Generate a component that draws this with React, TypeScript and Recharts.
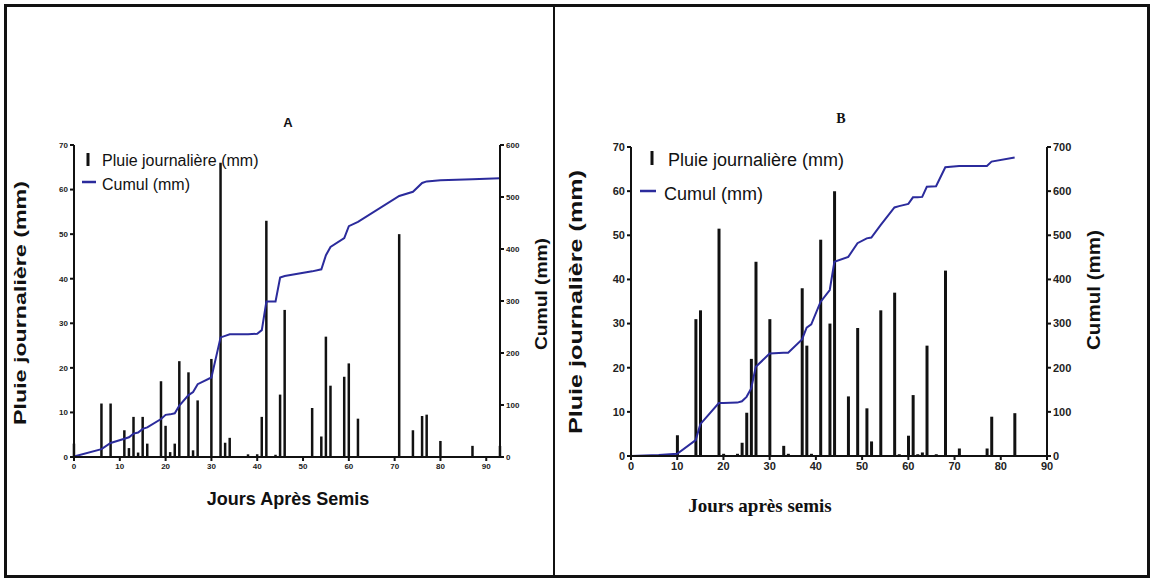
import React from 'react';
import { ComposedChart, Bar, Line, XAxis, YAxis } from 'recharts';

// ---------- Panel A data ----------
const daysA = [0, 6, 8, 11, 12, 13, 14, 15, 16, 19, 20, 21, 22, 23, 25, 26, 27, 30, 32, 33, 34, 38, 40, 41, 42, 44, 45, 46, 52, 54, 55, 56, 59, 60, 62, 71, 74, 76, 77, 80, 87, 93];
const rainA = [3, 12, 12, 6, 2, 9, 1, 9, 3, 17, 7, 1.1, 3, 21.5, 19, 1.5, 12.7, 22, 66, 3.2, 4.3, 0.6, 0.6, 9, 53, 0.5, 14, 33, 11, 4.6, 27, 16, 18, 21, 8.6, 50, 6, 9.2, 9.5, 3.6, 2.5, 2.5];
const cumulA = [1, 15, 27, 35, 38, 45, 47, 54, 57, 73, 81, 82, 84, 99, 119, 125, 140, 153, 230, 233, 236, 236, 237, 244, 299, 299, 345, 348, 357, 361, 388, 404, 421, 444, 452, 502, 510, 527, 530, 532, 534, 536];

// ---------- Panel B data ----------
const daysB = [0, 6, 10, 14, 15, 19, 20, 23, 24, 25, 26, 27, 30, 33, 34, 37, 38, 39, 41, 43, 44, 47, 49, 51, 52, 54, 57, 58, 60, 61, 62, 63, 64, 66, 68, 71, 77, 78, 83];
const rainB = [0, 0, 4.7, 31, 33, 51.5, 0.5, 0.5, 3, 9.8, 22, 44, 31, 2.3, 0.5, 38, 25, 0.5, 49, 30, 60, 13.5, 29, 10.8, 3.3, 33, 37, 0.4, 4.6, 13.8, 0.4, 0.8, 25, 0.4, 42, 1.7, 1.7, 8.9, 9.7];
const cumulB = [0, 2, 5, 36, 72, 120, 120, 121, 124, 134, 153, 202, 232, 234, 234, 264, 291, 298, 349, 376, 440, 451, 482, 493, 495, 523, 563, 566, 571, 586, 586, 587, 610, 611, 654, 657, 657, 667, 676];

// ---------- Tick labels ----------
const xTicks = [0, 10, 20, 30, 40, 50, 60, 70, 80, 90];
const leftTicks = [0, 10, 20, 30, 40, 50, 60, 70];
const rightTicksA = [0, 100, 200, 300, 400, 500, 600];
const rightTicksB = [0, 100, 200, 300, 400, 500, 600, 700];

const legendRain = 'Pluie journalière (mm)';
const legendCumul = 'Cumul (mm)';

const tableA = daysA.map((d, i) => ({ day: d, rain: rainA[i], cumul: cumulA[i] }));
const tableB = daysB.map((d, i) => ({ day: d, rain: rainB[i], cumul: cumulB[i] }));

const LINE_COLOR = '#2b2b9c';
const NARROW = "'Liberation Sans Narrow', 'Arial Narrow', 'Liberation Sans', Arial, sans-serif";
const SANS = "'Liberation Sans', Arial, sans-serif";
const SERIF = "'Liberation Serif', 'Times New Roman', serif";

const axisLine = { stroke: '#111', strokeWidth: 2 };

function Panel(props: {
  data: any[];
  left: number;
  width: number;
  leftW: number;
  rightW: number;
  top: number;
  xH: number;
  xMax: number;
  rightMax: number;
  rightTicks: number[];
  tickFont: number;
  barSize: number;
}) {
  const { data, left, width, leftW, rightW, top, xH, xMax, rightMax, rightTicks, tickFont, barSize } = props;
  const tick = { fontSize: tickFont, fontWeight: 700, fill: '#222', fontFamily: NARROW };
  return (
    <div style={{ position: 'absolute', left, top: 0 }}>
      <ComposedChart
        width={width}
        height={582}
        data={data}
        margin={{ top, right: 0, left: 0, bottom: 0 }}
      >
        <XAxis
          dataKey="day"
          type="number"
          domain={[0, xMax]}
          ticks={xTicks}
          interval={0}
          height={xH}
          axisLine={axisLine}
          tickLine={axisLine}
          tickSize={4}
          tick={tick}
        />
        <YAxis
          yAxisId="l"
          domain={[0, 70]}
          ticks={leftTicks}
          interval={0}
          width={leftW}
          axisLine={axisLine}
          tickLine={axisLine}
          tickSize={4}
          tick={tick}
        />
        <YAxis
          yAxisId="r"
          orientation="right"
          domain={[0, rightMax]}
          ticks={rightTicks}
          interval={0}
          width={rightW}
          axisLine={axisLine}
          tickLine={axisLine}
          tickSize={4}
          tick={tick}
        />
        <Bar yAxisId="l" dataKey="rain" fill="#111" barSize={barSize} isAnimationActive={false} />
        <Line
          yAxisId="r"
          dataKey="cumul"
          type="linear"
          stroke={LINE_COLOR}
          strokeWidth={2}
          dot={false}
          isAnimationActive={false}
        />
      </ComposedChart>
    </div>
  );
}

export default function App() {
  return (
    <div
      style={{
        position: 'absolute',
        left: 0,
        top: 0,
        width: 1154,
        height: 582,
        background: '#fff',
        overflow: 'hidden',
      }}
    >
      <Panel
        data={tableA}
        left={0}
        width={577}
        leftW={74}
        rightW={77}
        top={145}
        xH={125}
        xMax={93}
        rightMax={600}
        rightTicks={rightTicksA}
        tickFont={8}
        barSize={2.5}
      />
      <Panel
        data={tableB}
        left={554}
        width={600}
        leftW={77}
        rightW={107}
        top={147}
        xH={126}
        xMax={90}
        rightMax={700}
        rightTicks={rightTicksB}
        tickFont={11}
        barSize={3}
      />

      <svg
        width={1154}
        height={582}
        style={{ position: 'absolute', left: 0, top: 0, pointerEvents: 'none' }}
      >
        {/* Panel A texts */}
        <text x={288} y={127} textAnchor="middle" fontFamily={SANS} fontWeight={700} fontSize={13} fill="#111">A</text>
        <rect x={86.5} y={153} width={3} height={13} fill="#111" />
        <text x={102} y={166} fontFamily={SANS} fontSize={16} fill="#111">{legendRain}</text>
        <line x1={82} x2={96} y1={182} y2={182} stroke={LINE_COLOR} strokeWidth={2.5} />
        <text x={102} y={190} fontFamily={SANS} fontSize={16} fill="#111">{legendCumul}</text>
        <text x={288} y={505} textAnchor="middle" fontFamily={SANS} fontWeight={700} fontSize={18} fill="#111">Jours Après Semis</text>
        <text
          transform="translate(26,303) rotate(-90)"
          textAnchor="middle"
          fontFamily={SANS}
          fontWeight={700}
          fontSize={17}
          fill="#111"
          textLength={244}
          lengthAdjust="spacingAndGlyphs"
        >
          {legendRain}
        </text>
        <text
          transform="translate(547,294) rotate(-90)"
          textAnchor="middle"
          fontFamily={SANS}
          fontWeight={700}
          fontSize={17}
          fill="#111"
          textLength={112}
          lengthAdjust="spacingAndGlyphs"
        >
          {legendCumul}
        </text>

        {/* Panel B texts */}
        <text x={841} y={123} textAnchor="middle" fontFamily={SERIF} fontWeight={700} fontSize={14} fill="#111">B</text>
        <rect x={650.5} y={151} width={3} height={14} fill="#111" />
        <text x={668} y={166} fontFamily={SANS} fontSize={18} fill="#111">{legendRain}</text>
        <line x1={640} x2={656} y1={191} y2={191} stroke={LINE_COLOR} strokeWidth={2.5} />
        <text x={664} y={200} fontFamily={SANS} fontSize={18} fill="#111">{legendCumul}</text>
        <text x={760} y={512} textAnchor="middle" fontFamily={SERIF} fontWeight={700} fontSize={19} fill="#111">Jours après semis</text>
        <text
          transform="translate(582,302) rotate(-90)"
          textAnchor="middle"
          fontFamily={SANS}
          fontWeight={700}
          fontSize={18}
          fill="#111"
          textLength={264}
          lengthAdjust="spacingAndGlyphs"
        >
          {legendRain}
        </text>
        <text
          transform="translate(1100,290) rotate(-90)"
          textAnchor="middle"
          fontFamily={SANS}
          fontWeight={700}
          fontSize={18}
          fill="#111"
          textLength={120}
          lengthAdjust="spacingAndGlyphs"
        >
          {legendCumul}
        </text>
      </svg>

      {/* frame */}
      <div
        style={{
          position: 'absolute',
          left: 4,
          top: 4,
          width: 1140,
          height: 568,
          border: '3px solid #111',
          pointerEvents: 'none',
        }}
      />
      <div
        style={{
          position: 'absolute',
          left: 553,
          top: 4,
          width: 2,
          height: 574,
          background: '#111',
          pointerEvents: 'none',
        }}
      />
    </div>
  );
}
